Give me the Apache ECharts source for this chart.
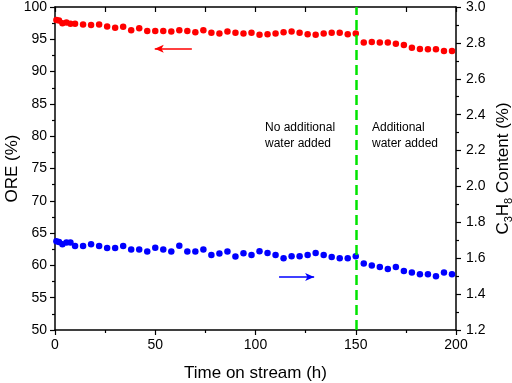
<!DOCTYPE html>
<html>
<head>
<meta charset="utf-8">
<script src="https://cdn.jsdelivr.net/npm/echarts@6/dist/echarts.min.js"></script>
<style>
  html, body { margin: 0; padding: 0; background: #fff; }
  #chart { width: 512px; height: 383px; }
</style>
</head>
<body>
<div id="chart"></div>
<script>
// time on stream (h), shared by both series
const hours = [0.7, 2, 3.7, 5.7, 7.7, 10,
    14, 18, 22, 26, 30, 34, 38, 42, 46, 50, 54, 58, 62, 66, 70, 74, 78, 82, 86, 90, 94, 98,
    102, 106, 110, 114, 118, 122, 126, 130, 134, 138, 142, 146, 150,
    154, 158, 162, 166, 170, 174, 178, 182, 186, 190, 194, 198];

// ORE (%) - left axis
const oreValues = [98.0, 97.9, 97.5, 97.6, 97.4, 97.4,
    97.3, 97.2, 97.3, 97.0, 96.8, 96.95, 96.4, 96.7, 96.3, 96.3, 96.3, 96.2, 96.4, 96.3, 96.1, 96.4, 96.0, 95.9, 96.2, 96.0, 95.9, 96.0,
    95.7, 95.8, 95.9, 96.1, 96.2, 96.0, 95.8, 95.7, 95.9, 96.0, 96.0, 95.8, 95.9,
    94.5, 94.6, 94.5, 94.5, 94.3, 94.1, 93.7, 93.5, 93.45, 93.45, 93.2, 93.2];

// C3H8 content (%) - right axis
const propaneValues = [1.694, 1.691, 1.678, 1.687, 1.687, 1.668,
    1.668, 1.678, 1.668, 1.657, 1.657, 1.668, 1.648, 1.648, 1.637, 1.659, 1.648, 1.637, 1.670, 1.637, 1.637, 1.648, 1.618, 1.627, 1.637, 1.609, 1.628, 1.618,
    1.639, 1.629, 1.618, 1.600, 1.611, 1.611, 1.618, 1.629, 1.618, 1.607, 1.600, 1.600, 1.611,
    1.570, 1.559, 1.551, 1.540, 1.551, 1.529, 1.520, 1.510, 1.510, 1.499, 1.520, 1.510];

const switchTime = 150;
// arrow annotations [fromX, toX, y] in data units
const oreArrow = [68.25, 49.75, 93.55];
const propaneArrow = [111.75, 129.25, 1.495];

const FONT = 'Liberation Sans, Arial, sans-serif';
const black = '#000000';

const chart = echarts.init(document.getElementById('chart'));

const baseAxis = {
    axisLine: { show: true, onZero: false, lineStyle: { color: black, width: 1.5 } },
    axisTick: { show: true, length: 5, lineStyle: { color: black, width: 1.2 } },
    minorTick: { show: true, splitNumber: 2, length: 3, lineStyle: { color: black, width: 1.2 } },
    splitLine: { show: false },
    axisLabel: { color: black, fontSize: 14, fontFamily: FONT },
};

const option = {
    animation: false,
    backgroundColor: '#ffffff',
    grid: { left: 55, right: 56, top: 7, bottom: 53, containLabel: false, outerBoundsMode: 'none' },
    xAxis: [
        {
            ...baseAxis,
            type: 'value',
            min: 0,
            max: 200,
            interval: 50,
            name: 'Time on stream (h)',
            nameLocation: 'middle',
            nameGap: 35,
            nameTextStyle: { color: black, fontSize: 17, fontFamily: FONT },
            axisLabel: { ...baseAxis.axisLabel, margin: 8 },
        },
        {
            ...baseAxis,
            type: 'value',
            position: 'top',
            min: 0,
            max: 200,
            interval: 50,
            axisLabel: { show: false },
            axisTick: { ...baseAxis.axisTick, inside: true },
            minorTick: { ...baseAxis.minorTick, length: 5 },
        },
    ],
    yAxis: [
        {
            ...baseAxis,
            type: 'value',
            min: 50,
            max: 100,
            interval: 5,
            name: 'ORE (%)',
            nameLocation: 'middle',
            nameRotate: 90,
            nameGap: 34,
            nameMoveOverlap: false,
            nameTextStyle: { color: black, fontSize: 17, fontFamily: FONT },
            axisLabel: { ...baseAxis.axisLabel, margin: 8 },
        },
        {
            ...baseAxis,
            type: 'value',
            position: 'right',
            min: 1.2,
            max: 3.0,
            interval: 0.2,
            name: '{a|C}{s|3}{a|H}{s|8}{a| Content (%)}',
            nameLocation: 'middle',
            nameRotate: 90,
            nameGap: 36,
            nameMoveOverlap: false,
            nameTextStyle: {
                color: black,
                fontFamily: FONT,
                rich: {
                    a: { fontSize: 17, fontFamily: FONT, color: black, lineHeight: 22 },
                    s: { fontSize: 11, fontFamily: FONT, color: black, lineHeight: 11, verticalAlign: 'bottom' },
                },
            },
            axisLabel: {
                ...baseAxis.axisLabel,
                margin: 10,
                formatter: (v) => v.toFixed(1),
            },
        },
    ],
    series: [
        {
            name: 'ORE',
            type: 'scatter',
            xAxisIndex: 0,
            yAxisIndex: 0,
            symbol: 'circle',
            symbolSize: 6.5,
            itemStyle: { color: '#ff0000', opacity: 1 },
            data: hours.map((h, i) => [h, oreValues[i]]),
            markLine: {
                silent: true,
                animation: false,
                label: { show: false },
                data: [
                    [
                        { xAxis: switchTime, yAxis: 50, symbol: 'none', lineStyle: { color: '#00e400', width: 2.5, type: [10, 5] } },
                        { xAxis: switchTime, yAxis: 100, symbol: 'none' },
                    ],
                    [
                        { coord: [oreArrow[0], oreArrow[2]], symbol: 'none', lineStyle: { color: '#ff0000', width: 1.5, type: 'solid' } },
                        { coord: [oreArrow[1], oreArrow[2]], symbol: 'arrow', symbolSize: [6, 9] },
                    ],
                ],
            },
        },
        {
            name: 'C3H8',
            type: 'scatter',
            xAxisIndex: 0,
            yAxisIndex: 1,
            symbol: 'circle',
            symbolSize: 6.5,
            itemStyle: { color: '#0000ff', opacity: 1 },
            data: hours.map((h, i) => [h, propaneValues[i]]),
            markLine: {
                silent: true,
                animation: false,
                label: { show: false },
                data: [
                    [
                        { coord: [propaneArrow[0], propaneArrow[2]], symbol: 'none', lineStyle: { color: '#0000ff', width: 1.5, type: 'solid' } },
                        { coord: [propaneArrow[1], propaneArrow[2]], symbol: 'arrow', symbolSize: [6, 9] },
                    ],
                ],
            },
        },
    ],
    graphic: [
        {
            type: 'text',
            left: 265,
            top: 120,
            style: { text: 'No additional\nwater added', fill: black, font: '12px ' + FONT, lineHeight: 16 },
        },
        {
            type: 'text',
            left: 372,
            top: 120,
            style: { text: 'Additional\nwater added', fill: black, font: '12px ' + FONT, lineHeight: 16 },
        },
    ],
};

chart.setOption(option);
</script>
</body>
</html>
